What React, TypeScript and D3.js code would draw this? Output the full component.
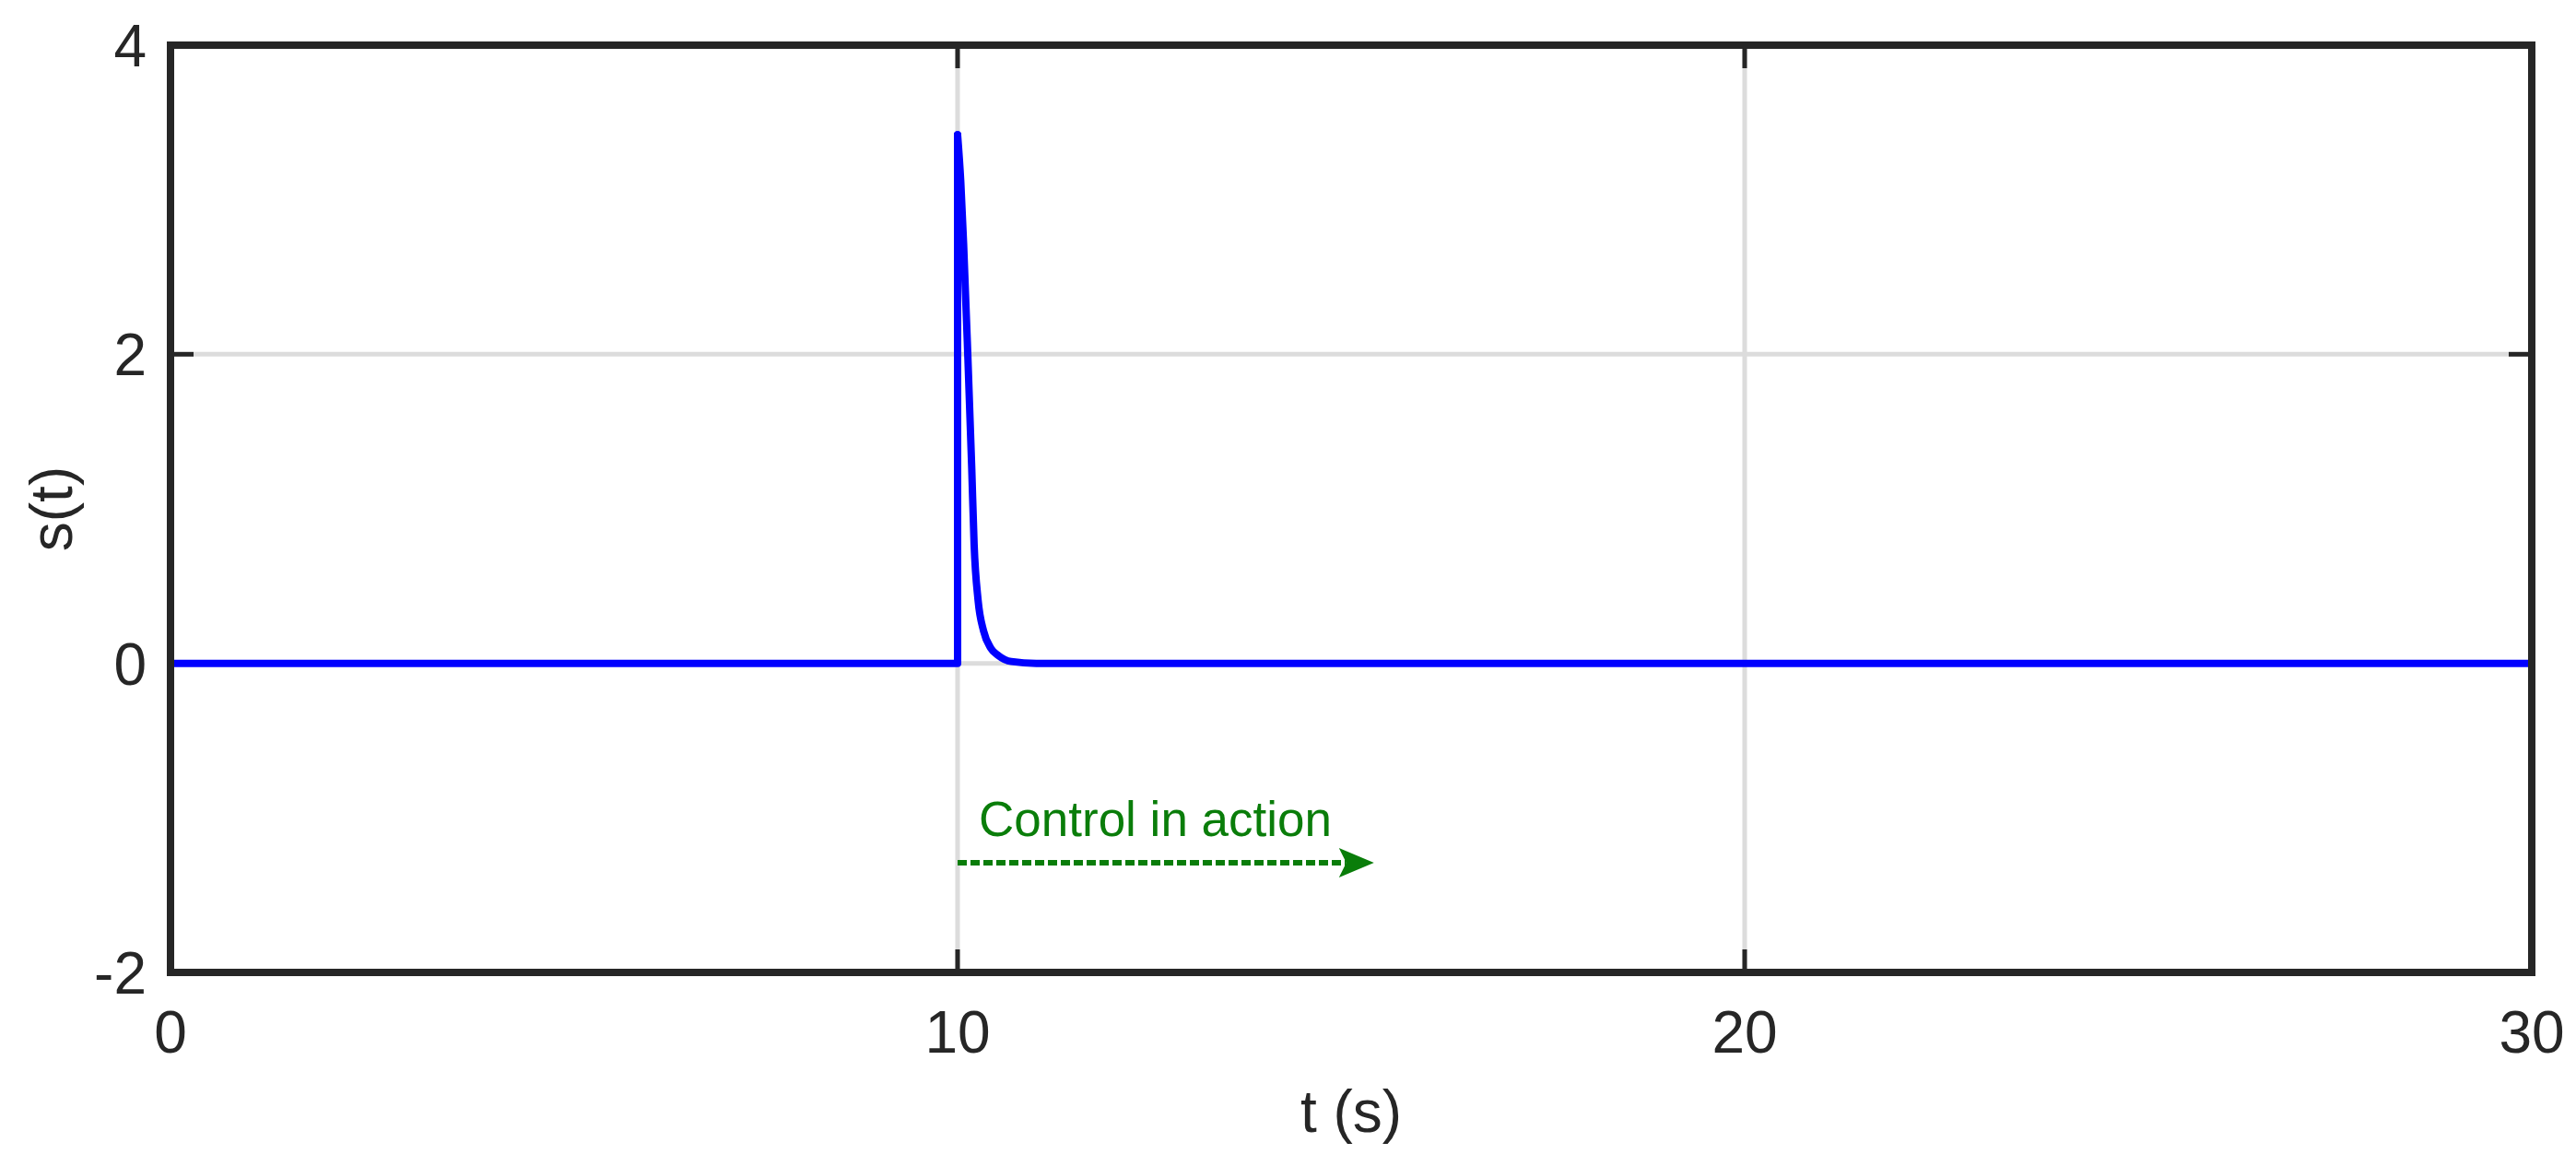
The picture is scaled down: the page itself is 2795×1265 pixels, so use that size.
import React from "react";
import * as d3 from "d3";

const tValues = [0, 10, 10, 10.04, 10.076, 10.13, 10.18, 10.21, 10.26, 10.33, 10.42, 10.52, 10.68, 11, 30];
const sValues = [0, 0, 3.42, 3.12, 2.72, 1.99, 1.26, 0.77, 0.41, 0.21, 0.1, 0.05, 0.012, 0, 0];

const xTicks = [0, 10, 20, 30];
const yTicks = [-2, 0, 2, 4];
const xGrid = [10, 20];
const yGrid = [0, 2];

const annotationText = "Control in action";
const annotationPos = [10.27, -1.12];
const arrowFrom = [10, -1.29];
const arrowTo = [15.29, -1.29];

const W = 2795;
const H = 1265;
const M = { left: 185, right: 2747, top: 49, bottom: 1055 };
const FONT = "'Liberation Sans', Arial, Helvetica, sans-serif";
const AX = "#262626";
const GREEN = "#0a7d0a";

export default function App() {
  const x = d3.scaleLinear().domain([0, 30]).range([M.left, M.right]);
  const y = d3.scaleLinear().domain([-2, 4]).range([M.bottom, M.top]);
  const pts = tValues.map((t, i) => [t, sValues[i]] as [number, number]);
  const rise = pts.slice(0, 3);
  const decay = pts.slice(2);
  const lineLinear = d3
    .line<[number, number]>()
    .x((d) => x(d[0]))
    .y((d) => y(d[1]));
  const lineSmooth = d3
    .line<[number, number]>()
    .x((d) => x(d[0]))
    .y((d) => y(d[1]))
    .curve(d3.curveMonotoneX);

  const ax0 = x(arrowFrom[0]);
  const ay = y(arrowFrom[1]);
  const tipX = x(arrowTo[0]);
  const headLen = 38;
  const headHalf = 16;
  const notch = 8;
  const headPath = `M${tipX},${ay} L${tipX - headLen},${ay - headHalf} L${tipX - headLen + notch},${ay} L${tipX - headLen},${ay + headHalf} Z`;

  return (
    <svg
      width={W}
      height={H}
      style={{ position: "absolute", left: 0, top: 0, background: "#fff" }}
      fontFamily={FONT}
    >
      <rect x={0} y={0} width={W} height={H} fill="#fff" />
      {xGrid.map((g) => (
        <line key={"gx" + g} x1={x(g)} x2={x(g)} y1={M.top} y2={M.bottom} stroke="#dcdcdc" strokeWidth={5} />
      ))}
      {yGrid.map((g) => (
        <line key={"gy" + g} x1={M.left} x2={M.right} y1={y(g)} y2={y(g)} stroke="#dcdcdc" strokeWidth={5} />
      ))}
      {xTicks.map((t) => (
        <g key={"xt" + t}>
          <line x1={x(t)} x2={x(t)} y1={M.bottom} y2={M.bottom - 25} stroke={AX} strokeWidth={5} />
          <line x1={x(t)} x2={x(t)} y1={M.top} y2={M.top + 25} stroke={AX} strokeWidth={5} />
          <text x={x(t)} y={1142} textAnchor="middle" fontSize={64} fill={AX}>
            {t}
          </text>
        </g>
      ))}
      {yTicks.map((t) => (
        <g key={"yt" + t}>
          <line x1={M.left} x2={M.left + 25} y1={y(t)} y2={y(t)} stroke={AX} strokeWidth={5} />
          <line x1={M.right} x2={M.right - 25} y1={y(t)} y2={y(t)} stroke={AX} strokeWidth={5} />
          <text x={159} y={y(t)} dy="0.36em" textAnchor="end" fontSize={64} fill={AX}>
            {t}
          </text>
        </g>
      ))}
      <path d={lineLinear(rise) || ""} fill="none" stroke="#0000ff" strokeWidth={8} strokeLinejoin="round" strokeLinecap="round" />
      <path d={lineSmooth(decay) || ""} fill="none" stroke="#0000ff" strokeWidth={8} strokeLinejoin="round" strokeLinecap="round" />
      <rect
        x={M.left}
        y={M.top}
        width={M.right - M.left}
        height={M.bottom - M.top}
        fill="none"
        stroke={AX}
        strokeWidth={8}
      />
      <line x1={ax0} x2={tipX - headLen + notch} y1={ay} y2={ay} stroke={GREEN} strokeWidth={6} strokeDasharray="10 4" />
      <path d={headPath} fill={GREEN} />
      <text x={x(annotationPos[0])} y={y(annotationPos[1])} fontSize={53} fill={GREEN}>
        {annotationText}
      </text>
      <text x={(M.left + M.right) / 2} y={1228} textAnchor="middle" fontSize={64} fill={AX}>
        t (s)
      </text>
      <text
        transform={`translate(78, ${(M.top + M.bottom) / 2}) rotate(-90)`}
        textAnchor="middle"
        fontSize={64}
        fill={AX}
      >
        s(t)
      </text>
    </svg>
  );
}
